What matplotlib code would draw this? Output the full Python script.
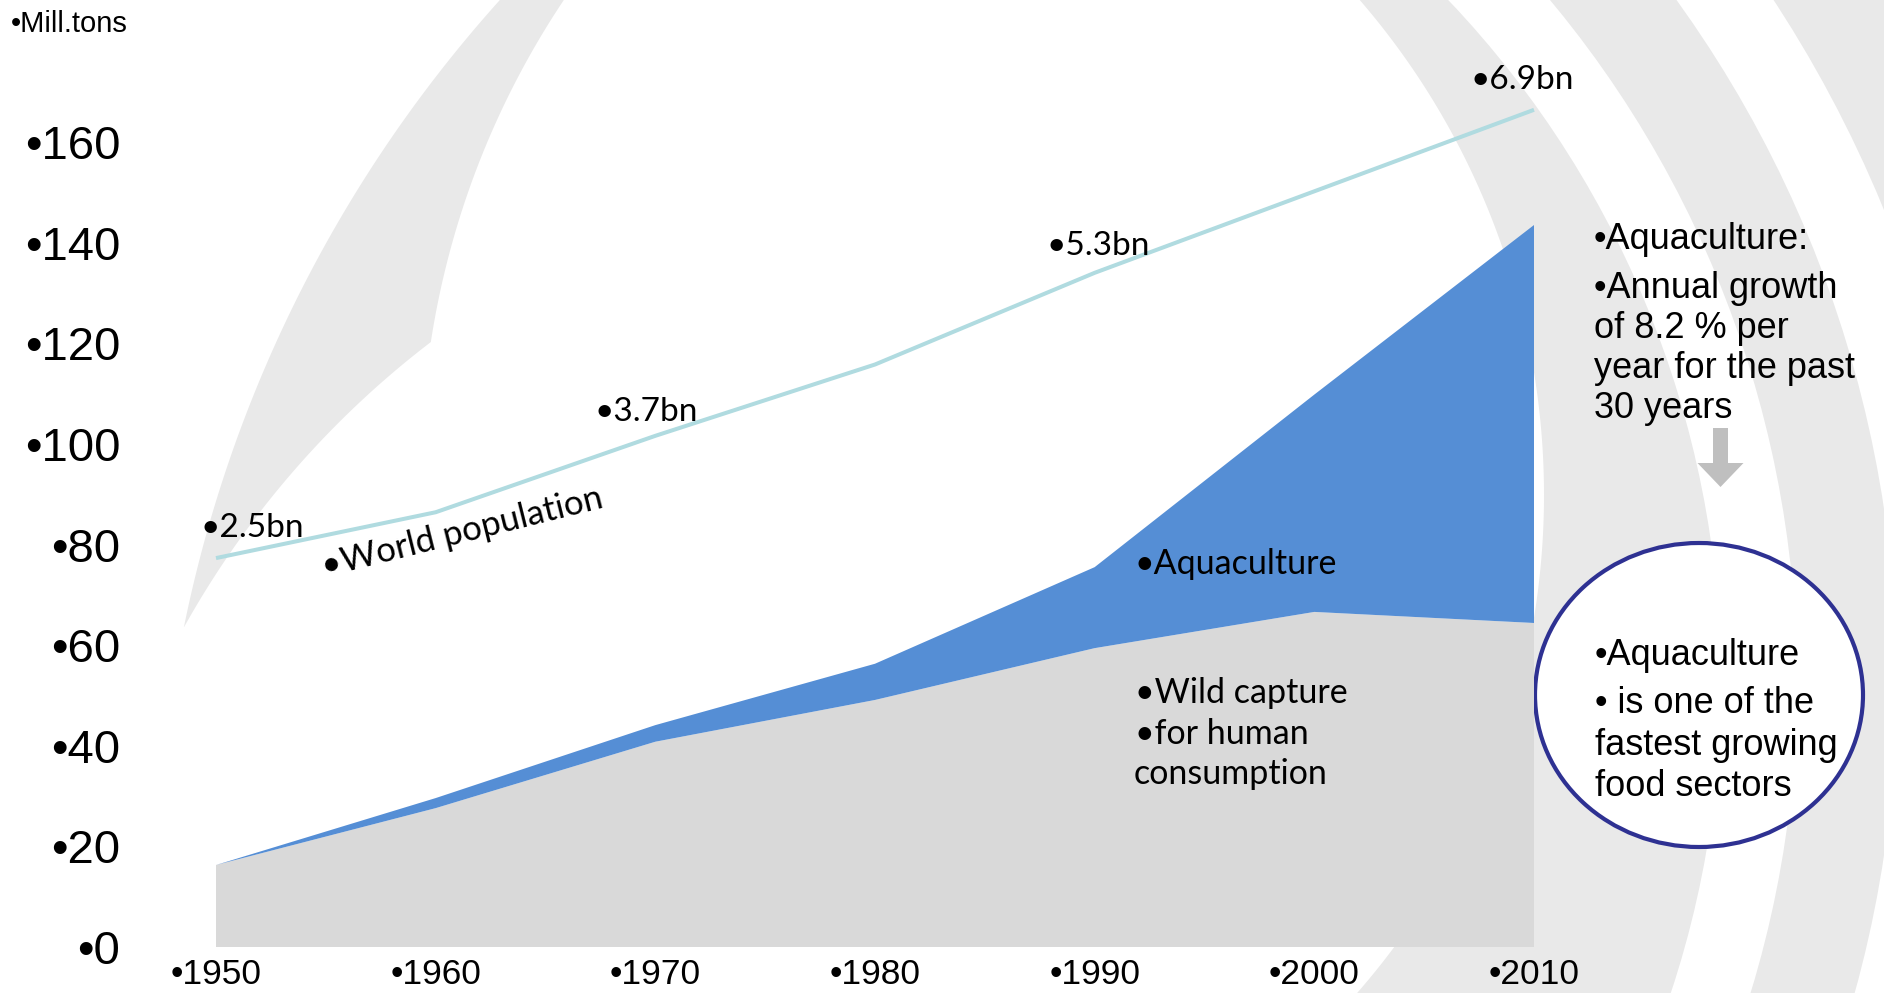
import numpy as np
import matplotlib
matplotlib.use("Agg")
import matplotlib.pyplot as plt
from matplotlib.patches import Polygon, Wedge, Ellipse, FancyArrow

# ---------------- data ----------------
years = [1950, 1960, 1970, 1980, 1990, 2000, 2010]
wild_capture = [16.3, 27.6, 40.8, 49.1, 59.4, 66.6, 64.4]      # mill. tons
aquaculture = [0.0, 2.0, 3.3, 7.2, 16.1, 43.2, 79.1]           # mill. tons (stacked on top)
population_bn = [2.5, 2.95, 3.7, 4.4, 5.3, 6.1, 6.9]            # world population, bn
y_ticks = [0, 20, 40, 60, 80, 100, 120, 140, 160]
pop_labels = ["•2.5bn", "•3.7bn", "•5.3bn", "•6.9bn"]

# ---------------- style ----------------
W, H, DPI = 1884, 993, 100
BG_GRAY = "#e9e9e9"
WILD = "#d9d9d9"
AQUA = "#558ed5"
POP = "#b0dbe0"
CIRCLE_EDGE = "#2e3192"
ARROW = "#bfbfbf"
plt.rcParams['font.family'] = ['Liberation Sans', 'DejaVu Sans']
CAL = ['Lato', 'DejaVu Sans']

fig = plt.figure(figsize=(W / DPI, H / DPI), dpi=DPI)
fig.patch.set_facecolor("white")

# background decoration axes in pixel units (y downward)
bg = fig.add_axes([0, 0, 1, 1])
bg.set_xlim(0, W)
bg.set_ylim(H, 0)
bg.axis('off')
bg.set_zorder(0)


def circ_x(cx, cy, r, ys, side):
    ys = np.asarray(ys, dtype=float)
    return cx + side * np.sqrt(np.clip(r ** 2 - (ys - cy) ** 2, 0, None))


# left crescent
ys1 = np.linspace(0, 627, 200)
ys2 = np.linspace(627, 342, 150)
ys3 = np.linspace(342, 0, 150)
pts = np.vstack([
    np.column_stack([circ_x(1494, 894, 1337, ys1, -1), ys1]),
    np.column_stack([circ_x(994, 1079, 927.5, ys2, -1), ys2]),
    np.column_stack([circ_x(1268, 470.7, 847, ys3, -1), ys3]),
])
bg.add_patch(Polygon(pts, closed=True, facecolor=BG_GRAY, edgecolor='none'))

# right gray swoosh region
ysr = np.linspace(0, H, 300)
right_pts = np.column_stack([circ_x(787, 495, 757, ysr, 1), ysr])
right_pts = np.vstack([right_pts, [[W + 20, H], [W + 20, 0]]])
bg.add_patch(Polygon(right_pts, closed=True, facecolor=BG_GRAY, edgecolor='none'))
# white stripes
bg.add_patch(Wedge((732, 682), 1065, -90, 90, width=76, facecolor='white', edgecolor='none'))
bg.add_patch(Wedge((732, 682), 1245, -90, 90, width=80, facecolor='white', edgecolor='none'))

# circle callout and arrow
bg.add_patch(Ellipse((1699, 695), 328, 304, facecolor='white', edgecolor=CIRCLE_EDGE, lw=3.0, zorder=3))
bg.add_patch(FancyArrow(1720.5, 428, 0, 59, width=15, head_width=46, head_length=24,
                        length_includes_head=True, facecolor=ARROW, edgecolor='none', zorder=3))

# ---------------- main chart ----------------
ax = fig.add_axes([216 / W, (H - 947) / H, 1318 / W, 805 / H])
ax.set_zorder(1)
ax.patch.set_alpha(0)
ax.stackplot(years, wild_capture, aquaculture, colors=[WILD, AQUA], edgecolor='none', linewidth=0)
ax.set_xlim(1950, 2010)
ax.set_ylim(0, 160)
for s in ax.spines.values():
    s.set_visible(False)
ax.set_yticks(y_ticks, labels=[f"•{v}" for v in y_ticks])
ax.set_xticks(years, labels=[f"•{v}" for v in years])
ax.tick_params(axis='y', length=0, pad=69, labelsize=34)
ax.tick_params(axis='x', length=0, pad=8, labelsize=25.5)

# world population on a hidden secondary scale
ax2 = ax.twinx()
ax2.set_zorder(2)
ax2.set_ylim(-26.675 / 20.25, (160 - 26.675) / 20.25)
ax2.plot(years, population_bn, color=POP, lw=2.9, clip_on=False, solid_capstyle='butt')
ax2.axis('off')


def ftext(x, y, s, **kw):
    return fig.text(x / W, 1 - y / H, s, **kw)


ftext(11, 32, "•Mill.tons", fontsize=21, va='baseline')

# population labels
for (px, py), lab in zip([(200, 537), (594, 421), (1046, 255), (1470, 89)], pop_labels):
    ftext(px, py, lab, family=CAL, fontsize=24, va='baseline')
ftext(325, 577, "•World population", family=CAL, fontsize=25, va='baseline', ha='left',
      rotation=14, rotation_mode='anchor')

# area labels
ftext(1135, 574, "•Aquaculture", family=CAL, fontsize=24.5, va='baseline')
ftext(1135, 703, "•Wild capture", family=CAL, fontsize=24.5, va='baseline')
ftext(1135, 744, "•for human", family=CAL, fontsize=24.5, va='baseline')
ftext(1134, 784, "consumption", family=CAL, fontsize=24.5, va='baseline')

# right-side notes
for yb, s in zip([249, 298, 338, 378, 418],
                 ["•Aquaculture:", "•Annual growth", "of 8.2 % per", "year for the past", "30 years"]):
    ftext(1594, yb, s, fontsize=26, va='baseline')
for yb, s in zip([665, 713, 755, 796],
                 ["•Aquaculture", "• is one of the", "fastest growing", "food sectors"]):
    ftext(1595, yb, s, fontsize=26, va='baseline', zorder=5)

fig.savefig("out.png", dpi=DPI)
